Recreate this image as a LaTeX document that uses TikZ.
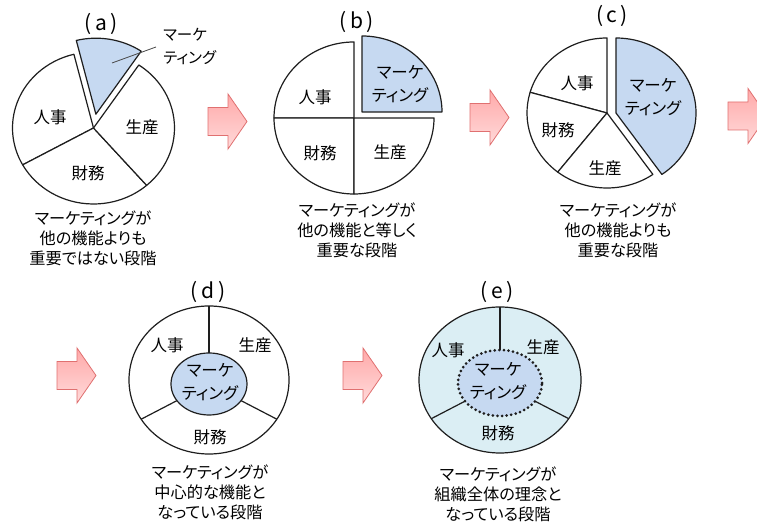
\documentclass[tikz,border=0pt]{standalone}
\usepackage{fontspec}
\setmainfont{Noto Sans CJK JP}[RawFeature={+palt}]
\newfontfamily\titlefont{Noto Sans CJK JP}
\usetikzlibrary{shapes.geometric}
\definecolor{mkt}{HTML}{C6D9F1}
\definecolor{pale}{HTML}{DBEEF4}
\definecolor{edge}{HTML}{1E1E1E}
\definecolor{arrowedge}{HTML}{E07070}
\definecolor{arrowtop}{HTML}{FFA9A9}
\definecolor{arrowbot}{HTML}{FFDADA}
\tikzset{
 slice/.style={draw=edge, line width=1.2pt, fill=white, line join=round},
 mslice/.style={slice, fill=mkt},
 divider/.style={draw=edge, line width=1.2pt},
 leader/.style={draw=edge!80, line width=0.8pt},
 lbl/.style={font=\fontsize{16.5}{19}\selectfont, inner sep=0pt},
 mlbl/.style={font=\fontsize{16.5}{23}\selectfont, align=center, inner sep=0pt},
 capt/.style={font=\fontsize{16.2}{20}\selectfont, align=center, inner sep=0pt},
 ttl/.style={font=\titlefont\fontsize{21}{22}\selectfont, inner sep=0pt},
 parrow/.style={draw=arrowedge, line width=0.8pt, top color=arrowtop, bottom color=arrowbot, line join=miter},
 pinkarrow/.pic={\path[parrow] (0,-14) -- (20,-14) -- (20,-27.5) -- (39,0) -- (20,27.5) -- (20,14) -- (0,14) -- cycle;},
}
\begin{document}
\begin{tikzpicture}[x=1pt,y=1pt]
\useasboundingbox (0,0) rectangle (757,526);
\clip (0,0) rectangle (757,526);
\fill[white] (0,0) rectangle (757,526);

% ---------- (a) ----------
\node[ttl] (ta) at (101,502) {(\,a\,)};
\coordinate (ca) at (93.5,398);
\coordinate (cam) at (95.9,411.8);
\filldraw[slice] (ca) -- ++(104:81pt and 76pt) arc[start angle=104,end angle=209,x radius=81pt,y radius=76pt] -- cycle;
\filldraw[slice] (ca) -- ++(209:81pt and 76pt) arc[start angle=209,end angle=311,x radius=81pt,y radius=76pt] -- cycle;
\filldraw[slice] (ca) -- ++(-49:81pt and 76pt) arc[start angle=-49,end angle=56,x radius=81pt,y radius=76pt] -- cycle;
\filldraw[mslice] (cam) -- ++(56:81pt and 76pt) arc[start angle=56,end angle=104,x radius=81pt,y radius=76pt] -- cycle;
\node[lbl] (a1) at (50,409) {人事};
\node[lbl] (a2) at (142,399) {生産};
\node[lbl] (a3) at (88,353) {財務};
\node[font=\fontsize{15.5}{23}\selectfont, align=left, inner sep=0pt, anchor=west] (amk) at (163,480) {マーケ\\ティング};
\coordinate (amkin) at (112,463);
\draw[leader] (amkin) -- ([xshift=-7pt,yshift=-1pt]amk.west);
\node[capt] (capa) at (93,288) {マーケティングが\\他の機能よりも\\重要ではない段階};

% ---------- (b) ----------
\node[ttl] (tb) at (357,504) {(\,b\,)};
\coordinate (cb) at (354,408);
\coordinate (cbm) at (362,414);
\filldraw[slice] (cb) -- ++(90:80pt and 76pt) arc[start angle=90,end angle=180,x radius=80pt,y radius=76pt] -- cycle;
\filldraw[slice] (cb) -- ++(180:80pt and 76pt) arc[start angle=180,end angle=270,x radius=80pt,y radius=76pt] -- cycle;
\filldraw[slice] (cb) -- ++(270:80pt and 76pt) arc[start angle=270,end angle=360,x radius=80pt,y radius=76pt] -- cycle;
\filldraw[mslice] (cbm) -- ++(0:80pt and 76pt) arc[start angle=0,end angle=90,x radius=80pt,y radius=76pt] -- cycle;
\node[lbl] (b1) at (315,429) {人事};
\node[mlbl] (bmk) at (400,442) {マーケ\\ティング};
\node[lbl] (b3) at (320,373) {財務};
\node[lbl] (b2) at (390,374) {生産};
\node[capt] (capb) at (357,296) {マーケティングが\\他の機能と等しく\\重要な段階};

% ---------- (c) ----------
\node[ttl] (tc) at (612,510) {(\,c\,)};
\coordinate (cc) at (607,413);
\coordinate (ccm) at (616,413);
\filldraw[slice] (cc) -- ++(90:80pt and 75pt) arc[start angle=90,end angle=164,x radius=80pt,y radius=75pt] -- cycle;
\filldraw[slice] (cc) -- ++(164:80pt and 75pt) arc[start angle=164,end angle=232,x radius=80pt,y radius=75pt] -- cycle;
\filldraw[slice] (cc) -- ++(232:80pt and 75pt) arc[start angle=232,end angle=305,x radius=80pt,y radius=75pt] -- cycle;
\filldraw[mslice] (ccm) -- ++(-55:80pt and 75pt) arc[start angle=-55,end angle=90,x radius=80pt,y radius=75pt] -- cycle;
\node[lbl] (c1) at (577,443) {人事};
\node[lbl] (c3) at (558,396) {財務};
\node[lbl] (c2) at (605,358) {生産};
\node[mlbl] (cmk) at (653,429) {マーケ\\ティング};
\node[capt] (capc) at (618,296) {マーケティングが\\他の機能よりも\\重要な段階};

% ---------- (d) ----------
\node[ttl] (td) at (208,234) {(\,d\,)};
\coordinate (dc) at (209,146);
\coordinate (dic) at (209,142);
\filldraw[slice] (dc) ellipse[x radius=80pt, y radius=74pt];
\draw[divider] (dc) ++(90:80pt and 74pt) -- (dic);
\draw[divider] (dc) ++(212:80pt and 74pt) -- (dic);
\draw[divider] (dc) ++(-32:80pt and 74pt) -- (dic);
\filldraw[mslice] (dic) ellipse[x radius=38pt, y radius=31pt];
\node[lbl] (d1) at (167,181) {人事};
\node[lbl] (d2) at (255,181) {生産};
\node[lbl] (d3) at (210,89) {財務};
\node[mlbl] (dmk) at (210,144) {マーケ\\ティング};
\node[capt] (capd) at (210,34) {マーケティングが\\中心的な機能と\\なっている段階};

% ---------- (e) ----------
\node[ttl] (te) at (497,234) {(\,e\,)};
\coordinate (ec) at (500,146);
\coordinate (eic) at (500,143);
\filldraw[slice, fill=pale] (ec) ellipse[x radius=81pt, y radius=73pt];
\draw[divider] (ec) ++(90:81pt and 73pt) -- (eic);
\draw[divider] (ec) ++(212:81pt and 73pt) -- (eic);
\draw[divider] (ec) ++(-32:81pt and 73pt) -- (eic);
\fill[mkt] (eic) ellipse[x radius=42pt, y radius=33pt];
\draw[draw=edge, line width=3pt, dash pattern=on 0pt off 4.6pt, line cap=round] (eic) ellipse[x radius=42pt, y radius=33pt];
\node[lbl] (e1) at (448,176) {人事};
\node[lbl] (e2) at (543,179) {生産};
\node[lbl] (e3) at (498,93) {財務};
\node[mlbl] (emk) at (498,145) {マーケ\\ティング};
\node[capt] (cape) at (498,32) {マーケティングが\\組織全体の理念と\\なっている段階};

% ---------- arrows ----------
\pic at (208,404.5) {pinkarrow};
\pic at (470,408.5) {pinkarrow};
\pic at (728,410) {pinkarrow};
\pic at (57,150.5) {pinkarrow};
\pic at (343,150.5) {pinkarrow};
\end{tikzpicture}
\end{document}
